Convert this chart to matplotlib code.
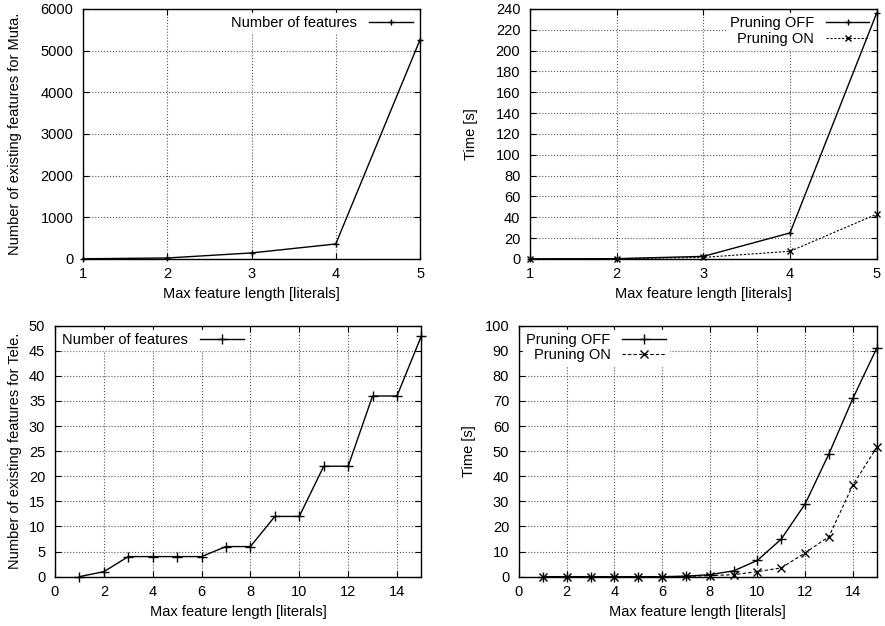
import numpy as np
import matplotlib.pyplot as plt

plt.rcParams['font.family'] = ['Liberation Sans', 'DejaVu Sans']
plt.rcParams['font.size'] = 10

# Muta. dataset
muta_len = [1, 2, 3, 4, 5]
muta_features = [5, 24, 145, 360, 5260]
muta_off = [0.1, 0.3, 2.5, 25, 236]
muta_on = [0.1, 0.3, 1.5, 7.4, 43]

# Tele. dataset
tele_len = [1, 2, 3, 4, 5, 6, 7, 8, 9, 10, 11, 12, 13, 14, 15]
tele_features = [0, 1, 4, 4, 4, 4, 6, 6, 12, 12, 22, 22, 36, 36, 48]
tele_off = [0, 0, 0, 0, 0, 0, 0.2, 0.8, 2.3, 6.5, 15, 29, 49, 71, 91]
tele_on = [0, 0, 0, 0, 0, 0, 0.1, 0.4, 0.8, 2, 3.5, 9.5, 16, 36.5, 51.5]

xlab = 'Max feature length [literals]'

fig = plt.figure(figsize=(8.85, 6.26), dpi=100)
ax1 = fig.add_axes([0.0938, 0.5863, 0.3808, 0.3994])
ax2 = fig.add_axes([0.5989, 0.5863, 0.3917, 0.3994])
ax3 = fig.add_axes([0.0621, 0.0788, 0.4141, 0.4009])
ax4 = fig.add_axes([0.5864, 0.0788, 0.4042, 0.4009])


def estilo(ax):
    ax.grid(True, linestyle=':', color='#555555', linewidth=0.8, zorder=1)
    ax.tick_params(direction='in', top=True, right=True, length=4, labelsize=10.5)
    ax.tick_params(axis='y', pad=7)
    ax.tick_params(axis='x', pad=6)
    for s in ax.spines.values():
        s.set_linewidth(1.0)


def leyenda(ax, loc):
    leg = ax.legend(loc=loc, markerfirst=False, frameon=True, fancybox=False,
                    edgecolor='white', facecolor='white', framealpha=1,
                    borderaxespad=0.3, handlelength=3.0, labelspacing=0.1,
                    borderpad=0.2, fontsize=10.5)
    # la leyenda tapa la rejilla pero no las curvas
    leg.set_zorder(1.8)


ax1.plot(muta_len, muta_features, color='black', lw=1, marker='+', ms=4,
         label='Number of features', clip_on=False, zorder=3)
ax1.set_xlim(1, 5)
ax1.set_ylim(0, 6000)
ax1.set_xticks([1, 2, 3, 4, 5])
ax1.set_yticks(np.arange(0, 6001, 1000))
ax1.set_xlabel(xlab, fontsize=10.5)
ax1.set_ylabel('Number of existing features for Muta.', fontsize=10.5, labelpad=13)
estilo(ax1)
leyenda(ax1, 'upper right')

ax2.plot(muta_len, muta_off, color='black', lw=1, marker='+', ms=4,
         label='Pruning OFF', clip_on=False, zorder=3)
ax2.plot(muta_len, muta_on, color='black', lw=0.8, ls='--', dashes=(2, 1.5),
         marker='x', ms=4, label='Pruning ON', clip_on=False, zorder=3)
ax2.set_xlim(1, 5)
ax2.set_ylim(0, 240)
ax2.set_xticks([1, 2, 3, 4, 5])
ax2.set_yticks(np.arange(0, 241, 20))
ax2.set_xlabel(xlab, fontsize=10.5)
ax2.set_ylabel('Time [s]', fontsize=10.5, labelpad=13)
estilo(ax2)
leyenda(ax2, 'upper right')

ax3.plot(tele_len, tele_features, color='black', lw=1, marker='+', ms=7,
         label='Number of features', clip_on=False, zorder=3)
ax3.set_xlim(0, 15)
ax3.set_ylim(0, 50)
ax3.set_xticks(np.arange(0, 15, 2))
ax3.set_yticks(np.arange(0, 51, 5))
ax3.set_xlabel(xlab, fontsize=10.5)
ax3.set_ylabel('Number of existing features for Tele.', fontsize=10.5, labelpad=5)
estilo(ax3)
leyenda(ax3, 'upper left')

ax4.plot(tele_len, tele_off, color='black', lw=1, marker='+', ms=7,
         label='Pruning OFF', clip_on=False, zorder=3)
ax4.plot(tele_len, tele_on, color='black', lw=0.8, ls='--', dashes=(3, 2),
         marker='x', ms=6, label='Pruning ON', clip_on=False, zorder=3)
ax4.set_xlim(0, 15)
ax4.set_ylim(0, 100)
ax4.set_xticks(np.arange(0, 15, 2))
ax4.set_yticks(np.arange(0, 101, 10))
ax4.set_xlabel(xlab, fontsize=10.5)
ax4.set_ylabel('Time [s]', fontsize=10.5, labelpad=6)
estilo(ax4)
leyenda(ax4, 'upper left')

fig.savefig('out.png', dpi=100)
